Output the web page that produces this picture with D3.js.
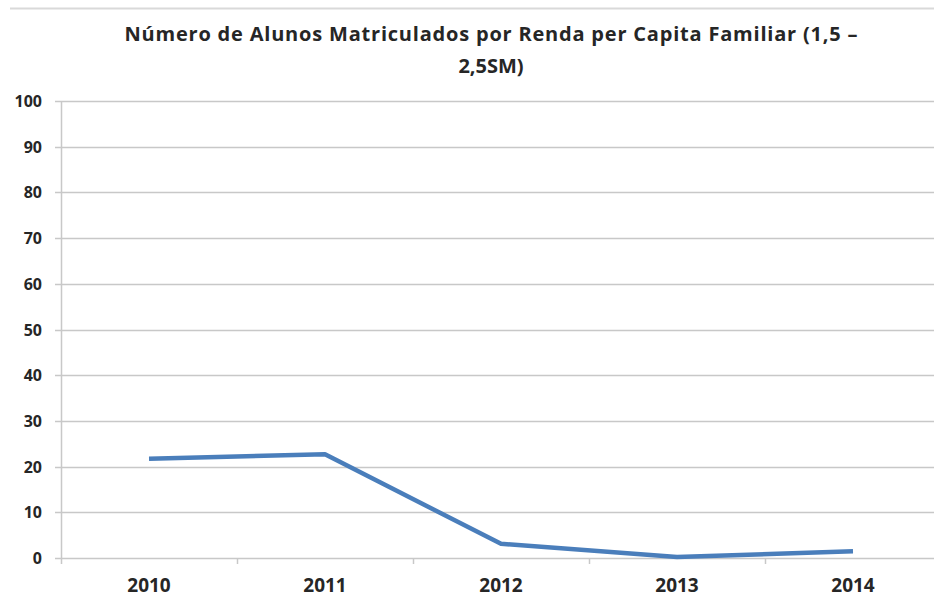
<!DOCTYPE html>
<html>
<head>
<meta charset="utf-8">
<script src="https://cdnjs.cloudflare.com/ajax/libs/d3/7.8.5/d3.min.js"></script>
<style>
  body { margin: 0; background: #fff; }
  text { font-family: "Open Sans", "Liberation Sans", sans-serif; fill: #262626; }
</style>
</head>
<body>
<div id="chart"></div>
<script>
// data
var years = ["2010", "2011", "2012", "2013", "2014"];
var alunos = [21.7, 22.7, 3.1, 0.2, 1.5];
var yTicks = [0, 10, 20, 30, 40, 50, 60, 70, 80, 90, 100];
var titleLines = ["Número de Alunos Matriculados por Renda per Capita Familiar (1,5 –", "2,5SM)"];

var width = 934, height = 598;
var margin = {top: 101, right: 0, bottom: 40, left: 61};

var svg = d3.select("#chart")
            .append("svg")
            .attr("width", width)
            .attr("height", height);

// top border of the chart area
svg.append("line")
   .attr("x1", 10).attr("x2", width)
   .attr("y1", 8.5).attr("y2", 8.5)
   .attr("stroke", "#d9d9d9")
   .attr("stroke-width", 2);

var x = d3.scaleBand()
          .domain(years)
          .range([margin.left, margin.left + 5 * 176]);

var y = d3.scaleLinear()
          .domain([0, 100])
          .range([558, margin.top]);

// gridlines
svg.append("g")
   .selectAll("line")
   .data(yTicks)
   .join("line")
   .attr("x1", margin.left - 6)
   .attr("x2", width)
   .attr("y1", d => Math.round(y(d)) + 0.5)
   .attr("y2", d => Math.round(y(d)) + 0.5)
   .attr("stroke", "#c8c8c8")
   .attr("stroke-width", 1.5);

// y axis line
svg.append("line")
   .attr("x1", margin.left + 0.5).attr("x2", margin.left + 0.5)
   .attr("y1", y(100)).attr("y2", y(0) + 6)
   .attr("stroke", "#c8c8c8")
   .attr("stroke-width", 1.5);

// x ticks between categories
svg.append("g")
   .selectAll("line")
   .data(years.slice(1))
   .join("line")
   .attr("x1", d => Math.round(x(d)) + 0.5)
   .attr("x2", d => Math.round(x(d)) + 0.5)
   .attr("y1", y(0))
   .attr("y2", y(0) + 6)
   .attr("stroke", "#c8c8c8")
   .attr("stroke-width", 1.5);

// y labels
svg.append("g")
   .selectAll("text")
   .data(yTicks)
   .join("text")
   .attr("x", 42)
   .attr("y", d => y(d) + 6)
   .attr("text-anchor", "end")
   .attr("font-size", 16)
   .attr("font-weight", "bold")
   .text(d => d);

// x labels
svg.append("g")
   .selectAll("text")
   .data(years)
   .join("text")
   .attr("x", d => x(d) + x.bandwidth() / 2)
   .attr("y", 592)
   .attr("text-anchor", "middle")
   .attr("font-size", 19)
   .attr("font-weight", "bold")
   .text(d => d);

// line
var line = d3.line()
             .x((d, i) => x(years[i]) + x.bandwidth() / 2)
             .y(d => y(d));

svg.append("path")
   .datum(alunos)
   .attr("d", line)
   .attr("fill", "none")
   .attr("stroke", "#4a7ebb")
   .attr("stroke-width", 4.5)
   .attr("stroke-linejoin", "round");

// title
var title = svg.append("g")
   .selectAll("text")
   .data(titleLines)
   .join("text")
   .attr("x", 491)
   .attr("y", (d, i) => 41 + i * 32)
   .attr("text-anchor", "middle")
   .attr("font-size", 20)
   .attr("font-weight", "bold")
   .text(d => d);

title.filter((d, i) => i === 0)
     .attr("textLength", 733)
     .attr("lengthAdjust", "spacing");
</script>
</body>
</html>
